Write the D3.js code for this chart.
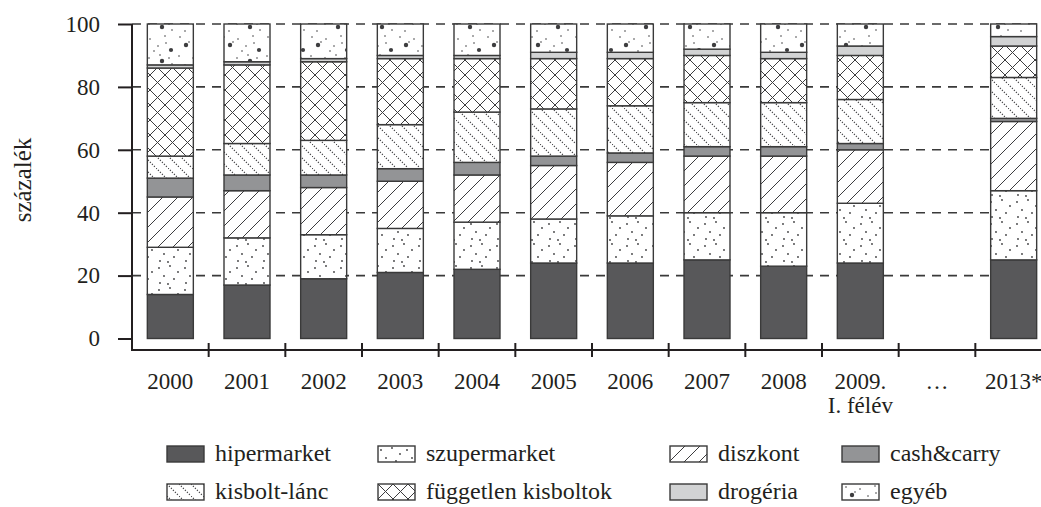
<!DOCTYPE html>
<html>
<head>
<meta charset="utf-8">
<script src="https://cdn.jsdelivr.net/npm/d3@7"></script>
<style>
  body { margin: 0; background: #fff; }
  text { font-family: "Liberation Serif", "Times New Roman", serif; fill: #231f20; }
</style>
</head>
<body>
<div id="chart"></div>
<script>
// évek (a "…" oszlop üres)
const years = ["2000", "2001", "2002", "2003", "2004", "2005", "2006", "2007", "2008", "2009.", "…", "2013*"];
const subLabels = { "2009.": "I. félév" };

// részesedés, %
const hipermarket  = [14, 17, 19, 21, 22, 24, 24, 25, 23, 24, null, 25];
const szupermarket = [15, 15, 14, 14, 15, 14, 15, 15, 17, 19, null, 22];
const diszkont     = [16, 15, 15, 15, 15, 17, 17, 18, 18, 17, null, 22];
const cashCarry    = [6, 5, 4, 4, 4, 3, 3, 3, 3, 2, null, 1];
const kisboltLanc  = [7, 10, 11, 14, 16, 15, 15, 14, 14, 14, null, 13];
const fuggetlen    = [28, 25, 25, 21, 17, 16, 15, 15, 14, 14, null, 10];
const drogeria     = [1, 1, 1, 1, 1, 2, 2, 2, 2, 3, null, 3];
const egyeb        = [13, 12, 11, 10, 10, 9, 9, 8, 9, 7, null, 4];

const yTicks = [0, 20, 40, 60, 80, 100];

const keys = ["hipermarket", "szupermarket", "diszkont", "cash&carry",
              "kisbolt-lánc", "független kisboltok", "drogéria", "egyéb"];
const seriesVals = [hipermarket, szupermarket, diszkont, cashCarry,
                    kisboltLanc, fuggetlen, drogeria, egyeb];

const width = 1041, height = 507;
const marginLeft = 132;

const svg = d3.select("#chart").append("svg")
  .attr("width", width).attr("height", height);

// mintázatok
const defs = svg.append("defs");
const ink = "#3d3d3f";

function pat(id, w, h) {
  return defs.append("pattern").attr("id", id)
    .attr("patternUnits", "userSpaceOnUse").attr("width", w).attr("height", h);
}
// szupermarket: ritka pontok
let p = pat("p-szuper", 26, 22);
p.append("rect").attr("width", 26).attr("height", 22).attr("fill", "#fff");
[[3, 4], [14, 2], [22, 8], [8, 12], [18, 15], [4, 19], [12, 20]].forEach(([cx, cy]) =>
  p.append("circle").attr("cx", cx).attr("cy", cy).attr("r", 0.9).attr("fill", ink));
// diszkont: ferde vonalak
p = pat("p-diszkont", 15, 15);
p.append("rect").attr("width", 15).attr("height", 15).attr("fill", "#fff");
p.append("path").attr("d", "M-1,16 L16,-1 M-4,4 L4,-4 M11,19 L19,11")
  .attr("stroke", ink).attr("stroke-width", 1);
// kisbolt-lánc: pontozott ferde vonalak
p = pat("p-kisbolt", 12, 12);
p.append("rect").attr("width", 12).attr("height", 12).attr("fill", "#fff");
p.append("path").attr("d", "M0,0 L12,12")
  .attr("stroke", ink).attr("stroke-width", 1.3)
  .attr("stroke-dasharray", "1.1,1.728");
// független kisboltok: rács
p = pat("p-fugg", 15, 15);
p.append("rect").attr("width", 15).attr("height", 15).attr("fill", "#fff");
p.append("path").attr("d", "M0,0 L15,15 M15,0 L0,15")
  .attr("stroke", ink).attr("stroke-width", 1);
// egyéb: pontok, néhány nagyobb
p = pat("p-egyeb", 44, 34);
p.append("rect").attr("width", 44).attr("height", 34).attr("fill", "#fff");
[[4, 3, 0.8], [18, 5, 0.8], [33, 2, 0.8], [10, 11, 2.2], [26, 12, 0.8], [39, 16, 2.1],
 [3, 22, 0.8], [17, 24, 0.8], [30, 27, 2.2], [9, 31, 0.8], [40, 30, 0.8], [22, 17, 0.8],
 [13, 8, 0.8], [34, 9, 0.8], [28, 21, 0.8], [37, 24, 0.8]]
  .forEach(([cx, cy, r]) =>
    p.append("circle").attr("cx", cx).attr("cy", cy).attr("r", r).attr("fill", ink));

const fills = {
  "hipermarket": "#58585a",
  "szupermarket": "url(#p-szuper)",
  "diszkont": "url(#p-diszkont)",
  "cash&carry": "#939496",
  "kisbolt-lánc": "url(#p-kisbolt)",
  "független kisboltok": "url(#p-fugg)",
  "drogéria": "#d2d3d4",
  "egyéb": "url(#p-egyeb)"
};

// táblázat a stackhez
const table = years.map((yr, i) => {
  const row = { year: yr };
  keys.forEach((k, j) => { row[k] = seriesVals[j][i] || 0; });
  row.empty = seriesVals[0][i] == null;
  return row;
});
const stacked = d3.stack().keys(keys)(table);

const x = d3.scaleBand().domain(years)
  .range([marginLeft, marginLeft + 920])
  .paddingInner(0.4).paddingOuter(0.2);
const y = d3.scaleLinear().domain([0, 100]).range([338.5, 24]);

// szaggatott rácsvonalak
svg.append("g").selectAll("line")
  .data(yTicks.filter(d => d > 0))
  .join("line")
  .attr("x1", marginLeft).attr("x2", width)
  .attr("y1", d => y(d)).attr("y2", d => y(d))
  .attr("stroke", "#3a3a3a").attr("stroke-width", 1.6)
  .attr("stroke-dasharray", "9,7");

// oszlopok
svg.append("g").selectAll("g")
  .data(stacked)
  .join("g")
  .attr("fill", d => fills[d.key])
  .selectAll("rect")
  .data(d => d.filter(s => !s.data.empty))
  .join("rect")
  .attr("x", d => x(d.data.year))
  .attr("width", x.bandwidth())
  .attr("y", d => y(d[1]))
  .attr("height", d => y(d[0]) - y(d[1]))
  .attr("stroke", "#3a3a3a").attr("stroke-width", 1.4);

// y tengely
const yAxis = svg.append("g")
  .attr("transform", `translate(${marginLeft},0)`)
  .call(d3.axisLeft(y).tickValues(yTicks).tickSize(14).tickPadding(18).tickSizeOuter(0));
yAxis.select(".domain").remove();
yAxis.selectAll(".tick line").attr("stroke", "#231f20").attr("stroke-width", 2);
yAxis.selectAll(".tick text")
  .style("font-family", "'Liberation Serif', serif").attr("font-size", 23).attr("fill", "#231f20");
svg.append("line")
  .attr("x1", marginLeft).attr("x2", marginLeft)
  .attr("y1", y(100)).attr("y2", 351)
  .attr("stroke", "#231f20").attr("stroke-width", 2);

// x tengely
svg.append("line")
  .attr("x1", marginLeft).attr("x2", width)
  .attr("y1", 350).attr("y2", 350)
  .attr("stroke", "#231f20").attr("stroke-width", 2);
const bounds = years.map(yr => x(yr) - x.step() * x.paddingOuter()).slice(1);
svg.append("g").selectAll("line")
  .data(bounds)
  .join("line")
  .attr("x1", d => d).attr("x2", d => d)
  .attr("y1", 343).attr("y2", 357)
  .attr("stroke", "#231f20").attr("stroke-width", 2);

svg.append("g").selectAll("text")
  .data(years)
  .join("text")
  .attr("x", d => x(d) + x.bandwidth() / 2)
  .attr("y", 389)
  .attr("text-anchor", "middle")
  .attr("font-size", 23)
  .text(d => d);
svg.append("g").selectAll("text")
  .data(years.filter(d => subLabels[d]))
  .join("text")
  .attr("x", d => x(d) + x.bandwidth() / 2)
  .attr("y", 413)
  .attr("text-anchor", "middle")
  .attr("font-size", 23)
  .text(d => subLabels[d]);

// y tengely felirat
svg.append("text")
  .attr("transform", "translate(31,180) rotate(-90)")
  .attr("text-anchor", "middle")
  .attr("font-size", 25)
  .text("százalék");

// jelmagyarázat
const legX = [167, 378, 670, 842];
const legY = [446, 484];
const legend = svg.append("g").selectAll("g")
  .data(keys)
  .join("g")
  .attr("transform", (d, i) => `translate(${legX[i % 4]},${legY[Math.floor(i / 4)]})`);
legend.append("rect")
  .attr("width", 37).attr("height", 16)
  .attr("fill", d => fills[d])
  .attr("stroke", "#3a3a3a").attr("stroke-width", 1.4);
legend.append("text")
  .attr("x", 48).attr("y", 15)
  .attr("font-size", 24)
  .text(d => d);
</script>
</body>
</html>
